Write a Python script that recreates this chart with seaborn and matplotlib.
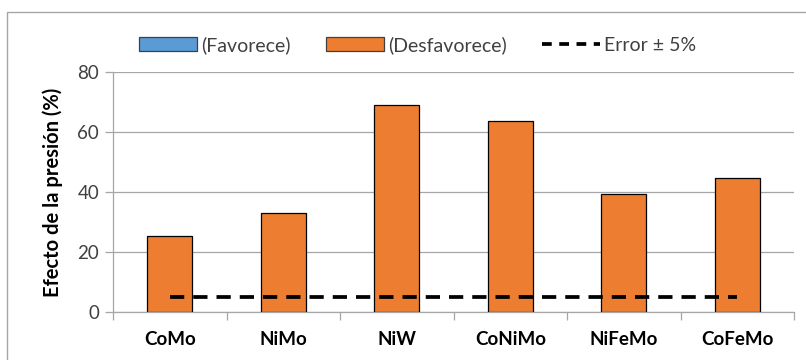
import matplotlib
matplotlib.use("Agg")
import matplotlib.pyplot as plt
import seaborn as sns
import pandas as pd
from matplotlib.patches import Patch, Rectangle
from matplotlib.lines import Line2D

categories = ["CoMo", "NiMo", "NiW", "CoNiMo", "NiFeMo", "CoFeMo"]
desfavorece = [25.5, 33.0, 69.0, 63.7, 39.3, 44.7]
error_line = [5, 5, 5, 5, 5, 5]
legend_labels = ["(Favorece)", "(Desfavorece)", "Error ± 5%"]
y_ticks = [0, 20, 40, 60, 80]

sns.set_theme(style="white")
plt.rcParams['font.family'] = ['Lato', 'DejaVu Sans']

fig = plt.figure(figsize=(8.06, 3.6), dpi=100)
ax = fig.add_axes([113/806, 1-312/360, (794-113)/806, 240/360])

dash = (0, (3.8, 2.4))
df = pd.DataFrame({"cat": categories, "val": desfavorece})
sns.barplot(data=df, x="cat", y="val", color="#ED7D31", saturation=1,
            width=0.4, edgecolor="black", linewidth=0.9, ax=ax, zorder=3)
ax.plot(categories, error_line, color="black", linestyle=dash,
        linewidth=2.7, zorder=4)

ax.set_ylim(0, 80)
ax.set_xlim(-0.5, len(categories) - 0.5)
ax.set_yticks(y_ticks)
ax.set_yticklabels([str(v) for v in y_ticks], fontsize=13.5, color="#404040")
ax.yaxis.grid(True, color="#A6A6A6", linewidth=0.9, zorder=0)
ax.set_axisbelow(True)
ax.tick_params(axis="y", which="major", length=6, color="#A6A6A6", left=True, width=0.9, pad=4)
ax.tick_params(axis="x", which="major", length=0, pad=14)
ax.set_xticks(range(len(categories)))
ax.set_xticklabels(categories, fontsize=13.5, fontweight="bold", color="black")
ax.set_xticks([i - 0.5 for i in range(len(categories) + 1)], minor=True)
ax.tick_params(axis="x", which="minor", length=6, color="#A6A6A6", width=0.9, bottom=True)
ax.set_xlabel("")
ax.set_ylabel("Efecto de la presión (%)", fontsize=14.5, fontweight="bold", color="black", labelpad=10)
for s in ["top", "right"]:
    ax.spines[s].set_visible(False)
for s in ["left", "bottom"]:
    ax.spines[s].set_color("#A6A6A6")
    ax.spines[s].set_linewidth(0.9)

handles = [Patch(facecolor="#5B9BD5", edgecolor="#404040", linewidth=0.9),
           Patch(facecolor="#ED7D31", edgecolor="#404040", linewidth=0.9),
           Line2D([0], [0], color="black", linestyle=(0, (2.6, 2.0)), linewidth=2.7)]
fig.legend(handles, legend_labels, loc="center", bbox_to_anchor=(0.518, 1-45/360), ncol=3,
           frameon=False, fontsize=14, handlelength=3.0, handleheight=0.75,
           handletextpad=0.2, columnspacing=1.8, labelcolor="#404040")

fig.patches.append(Rectangle((7/806, -0.1), 1.1, 1 - 12/360 + 0.1, transform=fig.transFigure,
                             fill=False, edgecolor="#A6A6A6", linewidth=1.0))

fig.savefig("out.png", dpi=100)
